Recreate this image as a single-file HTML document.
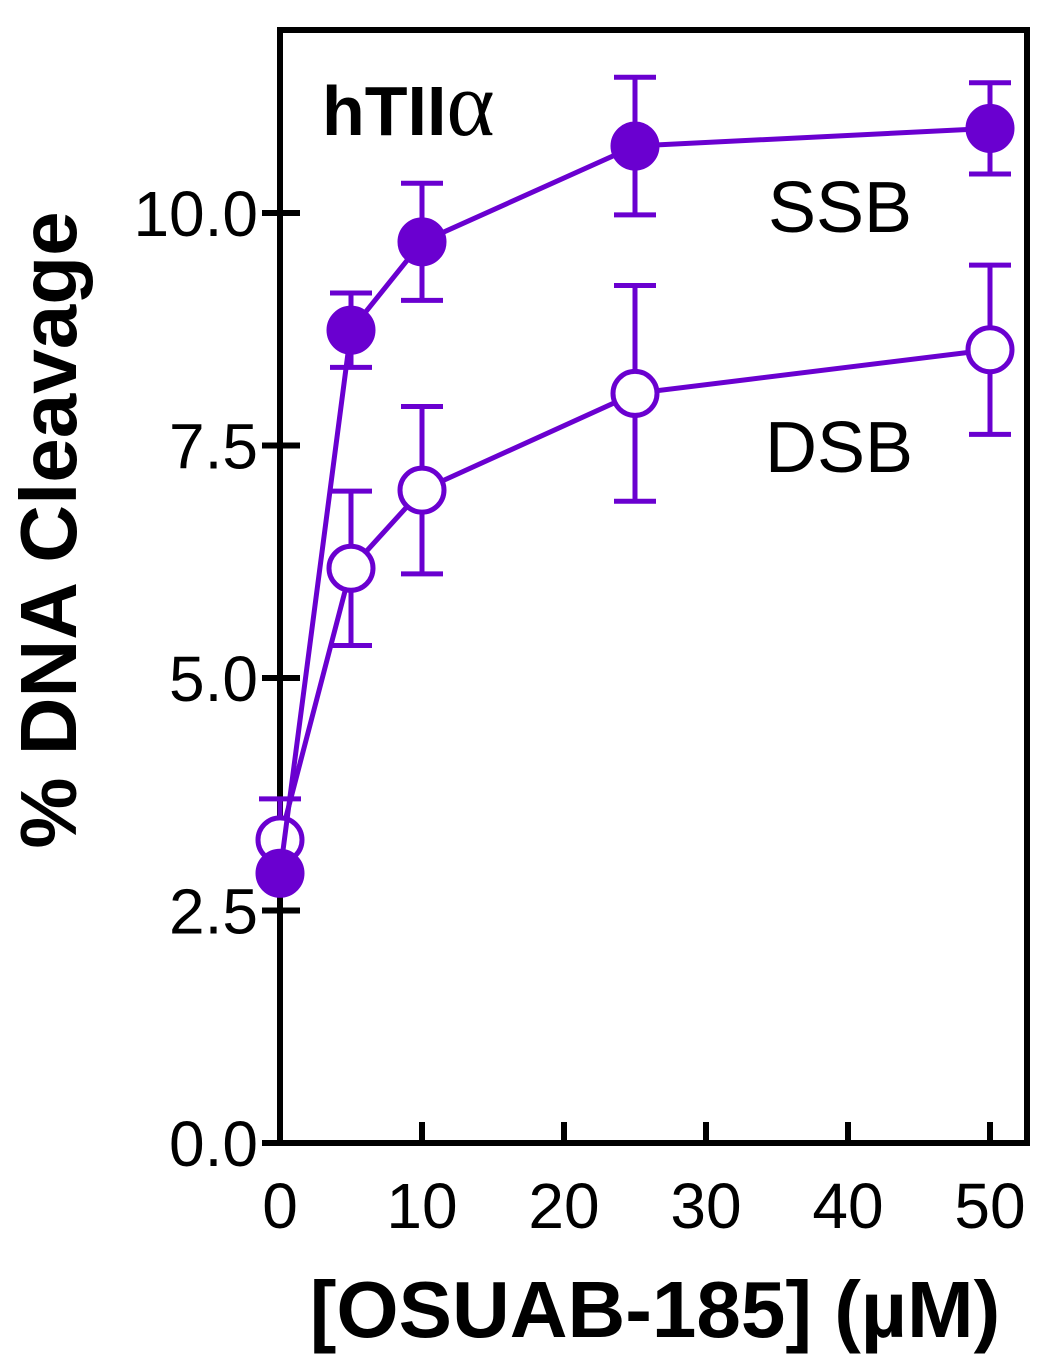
<!DOCTYPE html>
<html><head><meta charset="utf-8"><style>body{margin:0;background:#fff}svg{display:block}text{font-family:"Liberation Sans",sans-serif}</style></head>
<body>
<svg id="c" width="1062" height="1366" viewBox="0 0 1062 1366"></svg>
<script>
const xVals=[0,5,10,25,50];
const ssb=[2.9,8.74,9.69,10.72,10.91];
const ssbErr=[0,0.4,0.63,0.74,0.49];
const dsb=[3.26,6.18,7.02,8.06,8.53];
const dsbErr=[0.44,0.83,0.9,1.16,0.91];
const yTicks=[0,2.5,5,7.5,10];
const yTickLabels=["0.0","2.5","5.0","7.5","10.0"];
const xTicks=[0,10,20,30,40,50];
const xTickLabels=["0","10","20","30","40","50"];
const svg=document.getElementById('c');const NS='http://www.w3.org/2000/svg';
const X=v=>280+v*14.2, Y=v=>1143-v*93;
const col='#6a00d0';
function el(t,a,p){const e=document.createElementNS(NS,t);for(const k in a)e.setAttribute(k,a[k]);(p||svg).appendChild(e);return e;}
const frame=el('rect',{x:280,y:30,width:747,height:1113,fill:'none',stroke:'#000','stroke-width':6});


yTicks.forEach((v,i)=>{
 const t=el('line',{x1:262,x2:300,y1:Y(v),y2:Y(v),stroke:'#000','stroke-width':6});
 
 
 const l=el('text',{x:258,y:Y(v)+23,'font-size':64,'text-anchor':'end'});l.textContent=yTickLabels[i];
 
 
});
xTicks.forEach((v,i)=>{
 const t=el('line',{x1:X(v),x2:X(v),y1:1122,y2:1143,stroke:'#000','stroke-width':6});
 
 
 const l=el('text',{x:X(v),y:1228,'font-size':64,'text-anchor':'middle'});l.textContent=xTickLabels[i];
 
 
});
function series(vals,errs,fill,name){
 const g=el('g',{});
 
 
 const p=el('polyline',{points:xVals.map((x,i)=>X(x)+','+Y(vals[i])).join(' '),fill:'none',stroke:col,'stroke-width':5},g);
 
 
 xVals.forEach((x,i)=>{
  if(errs[i]>0){
   const e=el('path',{d:`M${X(x)} ${Y(vals[i]+errs[i])}V${Y(vals[i]-errs[i])}M${X(x)-21} ${Y(vals[i]+errs[i])}h42M${X(x)-21} ${Y(vals[i]-errs[i])}h42`,stroke:col,'stroke-width':5,fill:'none'},g);
   
   
  }
 });
 xVals.forEach((x,i)=>{
  const c=el('circle',{cx:X(x),cy:Y(vals[i]),r:22,fill:fill,stroke:col,'stroke-width':5},g);
  
  
 });
}
series(dsb,dsbErr,'#fff','dsb');
series(ssb,ssbErr,col,'ssb');
</script>
<div style="position:absolute;left:0;top:0;width:1062px;height:1366px;pointer-events:none">
<svg width="1062" height="1366" style="position:absolute;left:0;top:0">
<text x="322" y="135" font-size="70" font-weight="bold" style="font-family:'Liberation Sans',sans-serif">hTII<tspan style="font-family:'Liberation Serif',serif" font-weight="normal" font-size="92">α</tspan></text>
<text x="768" y="232" font-size="72" style="font-family:'Liberation Sans',sans-serif">SSB</text>
<text x="765" y="472" font-size="72" style="font-family:'Liberation Sans',sans-serif">DSB</text>
<text x="655" y="1337" font-size="80" font-weight="bold" text-anchor="middle" style="font-family:'Liberation Sans',sans-serif">[OSUAB-185] (µM)</text>
<text transform="translate(76,530) rotate(-90)" font-size="80" font-weight="bold" text-anchor="middle" style="font-family:'Liberation Sans',sans-serif">% DNA Cleavage</text>
</svg></div>
</body></html>
